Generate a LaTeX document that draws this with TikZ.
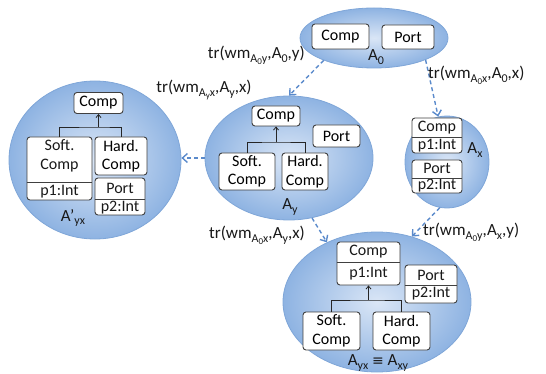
\documentclass[tikz,border=0pt]{standalone}
\usepackage{fontspec}
\setmainfont{Carlito}
\newfontfamily\symf{DejaVu Sans}
\usetikzlibrary{shapes.geometric,arrows.meta}
\newcommand\lsub[1]{\raisebox{-0.45ex}{\fontsize{12}{12}\selectfont #1}}
\newcommand\lsubsub[1]{\raisebox{-0.35ex}{\fontsize{9}{9}\selectfont #1}}
\definecolor{blobin}{HTML}{DAE6F6}
\definecolor{blobout}{HTML}{8EB3E2}
\definecolor{blobline}{HTML}{7FA6D8}
\definecolor{conncol}{HTML}{5A8ACB}
\definecolor{boxline}{HTML}{404040}
\begin{document}
\begin{tikzpicture}[x=1pt,y=-1pt,
  blob/.style={ellipse, draw=blobline, line width=0.8pt, inner color=blobin, outer color=blobout},
  box/.style={draw=boxline, fill=white, rounded corners=3pt, line width=0.9pt, inner sep=0pt, font=\fontsize{16}{18.5}\selectfont, align=center},
  txt/.style={inner sep=0pt, font=\fontsize{16}{18.5}\selectfont, align=center, text=black!90},
  divider/.style={draw=boxline, line width=0.9pt},
  inh/.style={draw=black!85, line width=0.8pt},
  inharr/.style={inh, -{Straight Barb[length=3pt,width=5pt]}},
  connector/.style={draw=conncol, line width=1.4pt, dash pattern=on 4pt off 3pt, -{Straight Barb[length=5pt,width=9pt]}},
  lbl/.style={inner sep=0pt, font=\fontsize{17}{19}\selectfont, text=black!90},
  ename/.style={inner sep=0pt, font=\fontsize{17}{19}\selectfont, text=black!90}]
\useasboundingbox (0,0) rectangle (546,374);

% ---------- A0 ----------
\node[blob, minimum width=148, minimum height=60] (A0) at (374,38) {};
\node[box, minimum width=57, minimum height=25] (a0comp) at (340.5,36.5) {Comp};
\node[box, minimum width=52, minimum height=24] (a0port) at (408,37) {Port};
\node[ename] (a0name) at (376,57) {A\lsub{0}};

% ---------- A'yx ----------
\node[blob, minimum width=172, minimum height=158] (Ayx) at (95,160) {};
\node[box, minimum width=49, minimum height=21] (yxcomp) at (98.5,103) {Comp};
\node[box, minimum width=65, minimum height=63] (yxsoft) at (59.5,168.5) {};
\node[txt] (yxsoftt) at (59.5,156) {Soft.\\Comp};
\node[txt] (yxsoftp) at (59.5,191.5) {p1:Int};
\draw[divider] (yxsoft.west |- 0,182) -- (yxsoft.east |- 0,182);
\node[box, minimum width=52, minimum height=38] (yxhard) at (121,156) {Hard.\\Comp};
\node[box, minimum width=50, minimum height=37] (yxport) at (120,196.5) {};
\node[txt] (yxportt) at (120,188.5) {Port};
\node[txt] (yxportp) at (120,207.5) {p2:Int};
\draw[divider] (yxport.west |- 0,199) -- (yxport.east |- 0,199);
\coordinate (yxj) at (98.5,127);
\draw[inh] (yxsoft.north) |- (yxj) -| (yxhard.north);
\draw[inharr] (yxj) -- (yxcomp.south);
\node[ename] (yxname) at (73,218) {A’\lsub{yx}};

% ---------- Ay ----------
\node[blob, minimum width=168, minimum height=124] (Ay) at (289,158) {};
\node[box, minimum width=48, minimum height=20] (ycomp) at (276,116) {Comp};
\node[box, minimum width=47, minimum height=22] (yport) at (336.5,136) {Port};
\node[box, minimum width=56, minimum height=37] (ysoft) at (247,171.5) {Soft.\\Comp};
\node[box, minimum width=46, minimum height=37] (yhard) at (305,171.5) {Hard.\\Comp};
\coordinate (yj) at (276,142);
\draw[inh] (ysoft.north) |- (yj) -| (yhard.north);
\draw[inharr] (yj) -- (ycomp.south);
\node[ename] (yname) at (290,207) {A\lsub{y}};

% ---------- Ax ----------
\node[blob, minimum width=84, minimum height=92] (Ax) at (447,162) {};
\node[box, minimum width=50, minimum height=35] (xcomp) at (437,135.5) {};
\node[txt] (xcompt) at (437,127.5) {Comp};
\node[txt] (xcompp) at (437,145.5) {p1:Int};
\draw[divider] (xcomp.west |- 0,137) -- (xcomp.east |- 0,137);
\node[box, minimum width=50, minimum height=33] (xport) at (437,176.5) {};
\node[txt] (xportt) at (437,168.5) {Port};
\node[txt] (xportp) at (437,186) {p2:Int};
\draw[divider] (xport.west |- 0,178) -- (xport.east |- 0,178);
\node[ename] (xname) at (475,150) {A\lsub{x}};

% ---------- Ayx = Axy ----------
\node[blob, minimum width=188, minimum height=140] (Axy) at (377,302) {};
\node[box, minimum width=63, minimum height=43] (bcomp) at (368.5,263.5) {};
\node[txt] (bcompt) at (368.5,251.5) {Comp};
\node[txt] (bcompp) at (368.5,273.5) {p1:Int};
\draw[divider] (bcomp.west |- 0,262) -- (bcomp.east |- 0,262);
\node[box, minimum width=52, minimum height=38] (bport) at (431,284) {};
\node[txt] (bportt) at (431,275) {Port};
\node[txt] (bportp) at (431,294) {p2:Int};
\draw[divider] (bport.west |- 0,285) -- (bport.east |- 0,285);
\node[box, minimum width=57, minimum height=38] (bsoft) at (331.5,331) {Soft.\\Comp};
\node[box, minimum width=57, minimum height=38] (bhard) at (401.5,331) {Hard.\\Comp};
\coordinate (bj) at (368.5,300);
\draw[inh] (bsoft.north) |- (bj) -| (bhard.north);
\draw[inharr] (bj) -- (bcomp.south);
\node[ename] (bname) at (378,363) {A\lsub{yx} {\symf\fontsize{14}{14}\selectfont ≡} A\lsub{xy}};

% ---------- connectors ----------
\draw[connector] (A0.204) -- (Ay.north);
\draw[connector] (A0.-23) -- (Ax.101);
\draw[connector] (Ay.west) -- (Ay.west -| Ayx.east);
\draw[connector] (Ay.-69) -- (Axy.130);
\draw[connector] (Ax.-99) -- (Axy.62);

% ---------- labels ----------
\node[lbl, anchor=east] (l1) at (305,55) {tr(wm\lsub{A\lsubsub{0}y},A\lsub{0},y)};
\node[lbl] (l2) at (204,90) {tr(wm\lsub{A\lsubsub{y}x},A\lsub{y},x)};
\node[lbl, anchor=west] (l3) at (428,75) {tr(wm\lsub{A\lsubsub{0}x},A\lsub{0},x)};
\node[lbl] (l4) at (257,235) {tr(wm\lsub{A\lsubsub{0}x},A\lsub{y},x)};
\node[lbl, anchor=west] (l5) at (423,232) {tr(wm\lsub{A\lsubsub{0}y},A\lsub{x},y)};
\end{tikzpicture}
\end{document}
